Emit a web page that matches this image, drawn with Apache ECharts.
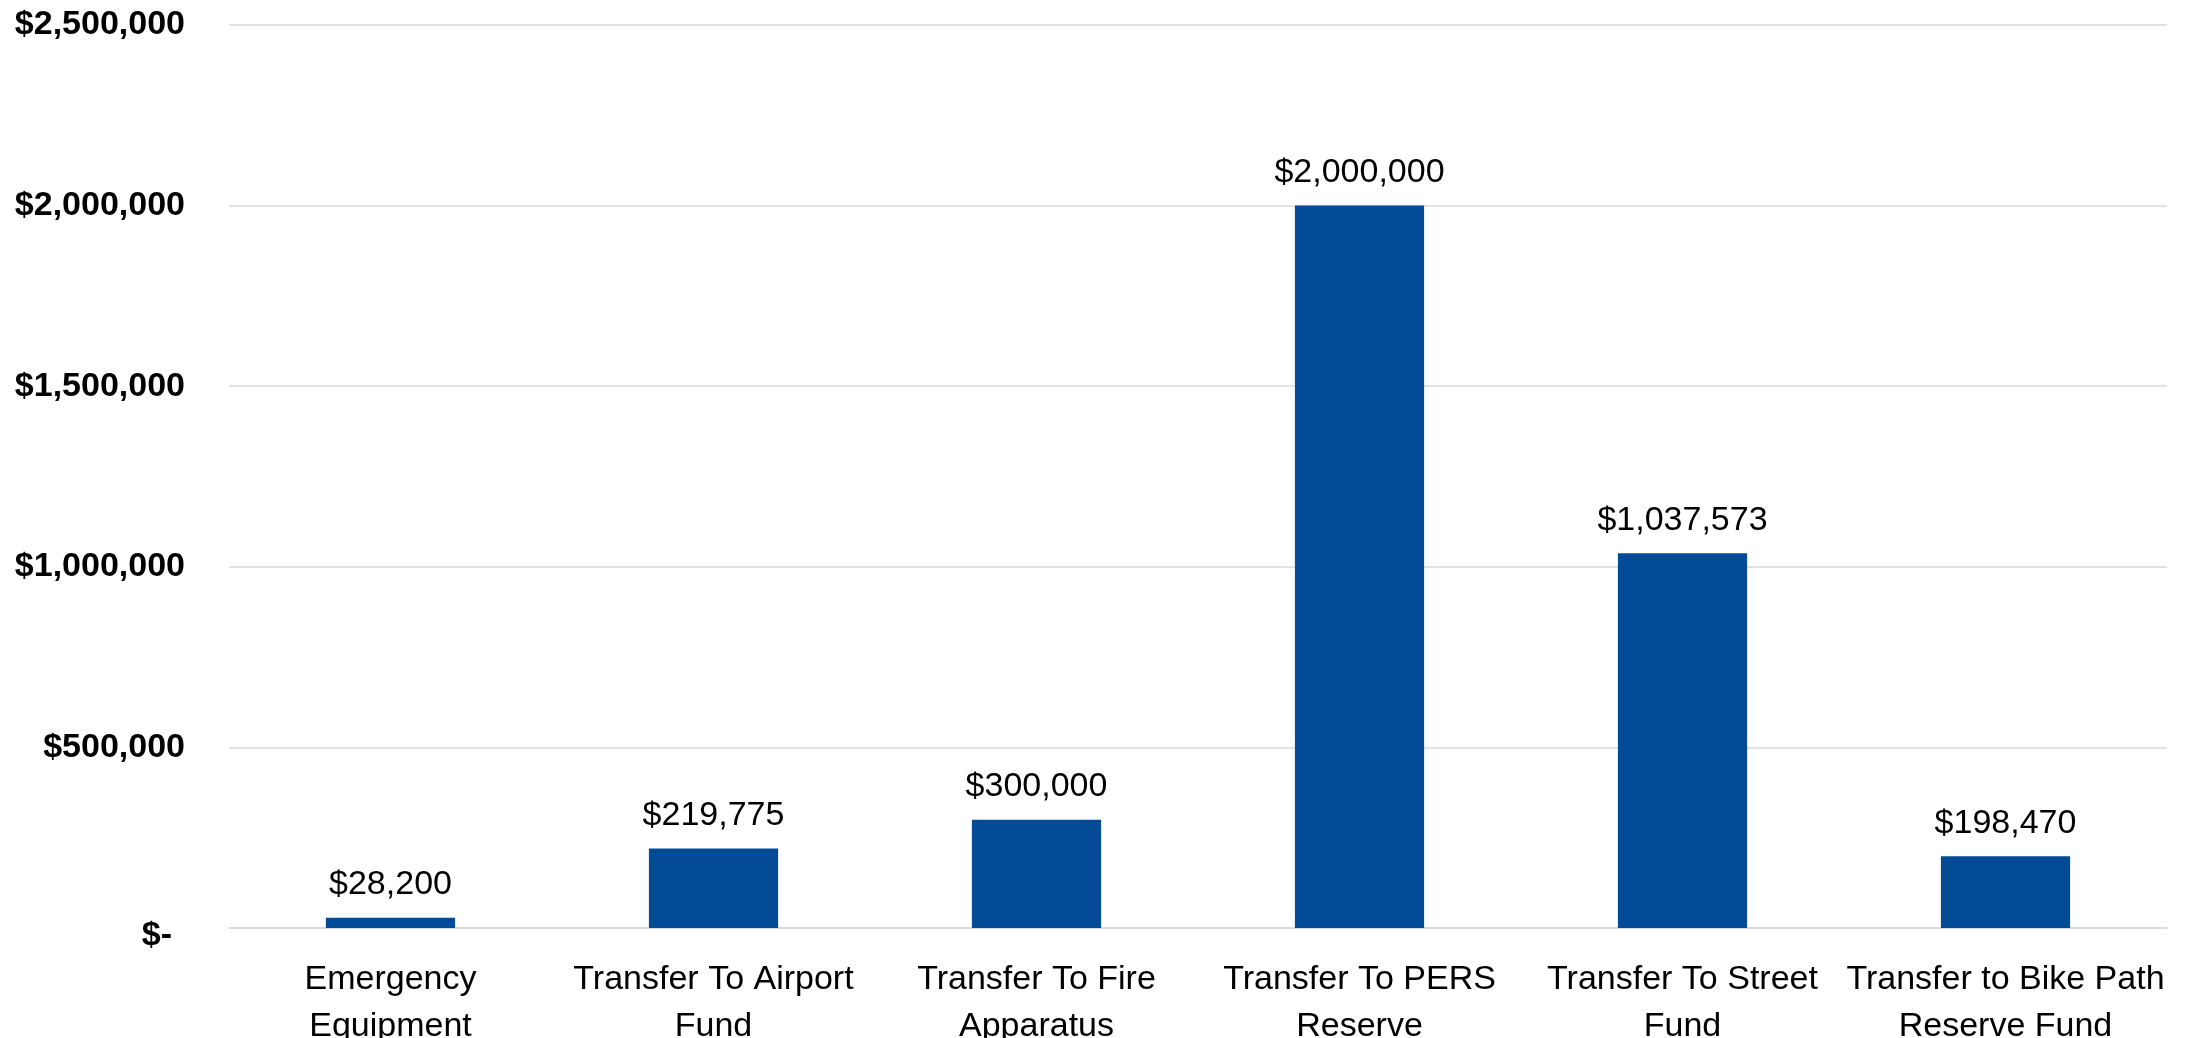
<!DOCTYPE html>
<html>
<head>
<meta charset="utf-8">
<script src="https://cdn.jsdelivr.net/npm/echarts@6/dist/echarts.min.js"></script>
<style>
  html, body { margin: 0; padding: 0; background: #fff; }
  #chart { width: 2193px; height: 1038px; }
</style>
</head>
<body>
<div id="chart"></div>
<script>
// categories and values
const categories = [
  'Emergency\nEquipment',
  'Transfer To Airport\nFund',
  'Transfer To Fire\nApparatus',
  'Transfer To PERS\nReserve',
  'Transfer To Street\nFund',
  'Transfer to Bike Path\nReserve Fund'
];
const amounts = [28200, 219775, 300000, 2000000, 1037573, 198470];
const yTicks = [0, 500000, 1000000, 1500000, 2000000, 2500000];

const FONT = '"Liberation Sans", Arial, sans-serif';

function money(v) {
  return '$' + v.toLocaleString('en-US');
}

const chart = echarts.init(document.getElementById('chart'));

chart.setOption({
  animation: false,
  grid: { left: 229, right: 26, top: 25, bottom: 110, outerBoundsMode: 'none', containLabel: false },
  xAxis: {
    type: 'category',
    data: categories,
    axisTick: { show: false },
    axisLine: { show: true, lineStyle: { color: '#d9d9d9', width: 1.5 } },
    axisLabel: {
      interval: 0,
      margin: 28,
      color: '#000',
      fontFamily: FONT,
      fontSize: 34,
      lineHeight: 47
    }
  },
  yAxis: {
    type: 'value',
    min: yTicks[0],
    max: yTicks[yTicks.length - 1],
    interval: yTicks[1] - yTicks[0],
    axisLine: { show: false },
    axisTick: { show: false },
    splitLine: { lineStyle: { color: '#d9d9d9', width: 1.5 } },
    axisLabel: {
      margin: 44,
      color: '#000',
      fontFamily: FONT,
      fontSize: 34,
      fontWeight: 'bold',
      formatter: v => v === 0 ? '{z|$-}' : money(v),
      rich: {
        z: { fontFamily: FONT, fontSize: 34, fontWeight: 'bold', color: '#000', padding: [16, 13, 0, 0] }
      }
    }
  },
  series: [{
    type: 'bar',
    data: amounts,
    barWidth: '40%',
    itemStyle: { color: '#034b97' },
    label: {
      show: true,
      position: 'top',
      distance: 16,
      color: '#000',
      fontFamily: FONT,
      fontSize: 34,
      formatter: p => money(p.value)
    }
  }]
});
</script>
</body>
</html>
